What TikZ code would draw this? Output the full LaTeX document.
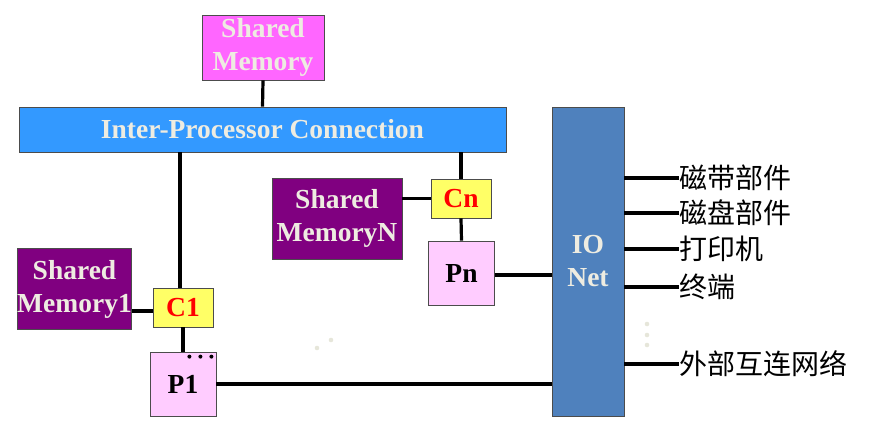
\documentclass[tikz,border=0pt]{standalone}
\usepackage{fontspec}
\setmainfont{Liberation Serif}
\newfontfamily\cjk{Noto Sans CJK SC}
\definecolor{memtop}{HTML}{FF66FF}
\definecolor{busblue}{HTML}{3399FF}
\definecolor{mempurple}{HTML}{800080}
\definecolor{cacheyellow}{HTML}{FFFF66}
\definecolor{procpink}{HTML}{FFCCFF}
\definecolor{ionet}{HTML}{4F81BD}
\definecolor{paletext}{HTML}{EEECE1}
\definecolor{faintdot}{HTML}{E6E6DA}

\begin{document}
\begin{tikzpicture}[x=1pt,y=-1pt,
    box/.style={draw=black!70,line width=0.8pt,inner sep=0pt,align=center,
      font=\fontsize{27.5}{33}\selectfont\bfseries},
    memory/.style={box,fill=mempurple,text=paletext,minimum width=#1,minimum height=81pt},
    cache/.style={box,fill=cacheyellow,text=red,minimum width=60pt,minimum height=39pt},
    proc/.style={box,fill=procpink,text=black,minimum width=66pt,minimum height=64pt},
    wire/.style={line width=3.2pt},
    device/.style={anchor=west,inner sep=0pt,font=\cjk\fontsize{28}{32}\selectfont}]
    \useasboundingbox (0,0) rectangle (875,429);
    \node [box,fill=memtop,text=paletext,minimum width=122pt,minimum height=65pt] (shm) at (263,47.5) {Shared\\Memory};
    \node [box,fill=busblue,text=paletext,minimum width=487pt,minimum height=45pt] (ipc) at (262.5,129.5) {Inter-Processor Connection};
    \node [memory=111pt] (sm1) at (74.5,289) {Shared\\Memory1};
    \node [cache] (c1) at (183,307.5) {C1};
    \node [proc] (p1) at (183,384) {P1};
    \node [memory=130pt] (smn) at (337,218.5) {Shared\\MemoryN};
    \node [cache] (cn) at (461,198.5) {Cn};
    \node [proc] (pn) at (461.5,273) {Pn};
    \node [box,fill=ionet,text=paletext,minimum width=72pt,minimum height=309pt] (io) at (588,261.5) {IO\\Net};
    \node [device] (tape) at (679,178) {磁带部件};
    \node [device] (disk) at (679,213) {磁盘部件};
    \node [device] (printer) at (679,249) {打印机};
    \node [device] (term) at (679,287) {终端};
    \node [device] (extnet) at (679,364) {外部互连网络};
    \draw [wire] (shm.south) -- (ipc.north);
    \draw [wire] ([xshift=-3pt]c1.north) -- ([xshift=-3pt]c1.north |- ipc.south);
    \draw [wire] (cn.north) -- (cn.north |- ipc.south);
    \draw [wire] ([yshift=-3.5pt]c1.west) -- ([yshift=-3.5pt]c1.west -| sm1.east);
    \draw [wire] (cn.west) -- (cn.west -| smn.east);
    \draw [wire] (c1.south) -- (p1.north);
    \draw [wire] (cn.south) -- (pn.north);
    \draw [wire] ([yshift=-2pt]pn.east) -- ([yshift=-2pt]pn.east -| io.west);
    \draw [wire] (p1.east) -- (p1.east -| io.west);
    \foreach \dev in {tape,disk,printer,term,extnet}
        \draw [wire] (\dev.west -| io.east) -- (\dev.west);
    \foreach \dx in {27,16,5}
        \fill ([xshift=-\dx pt,yshift=-5pt]p1.north east) circle (2pt);
    \fill [faintdot] (317,348) circle (2.3pt) (331,340) circle (2.3pt);
    \foreach \y in {324,335,345}
        \fill [faintdot] (647,\y) circle (2.3pt);
\end{tikzpicture}
\end{document}
